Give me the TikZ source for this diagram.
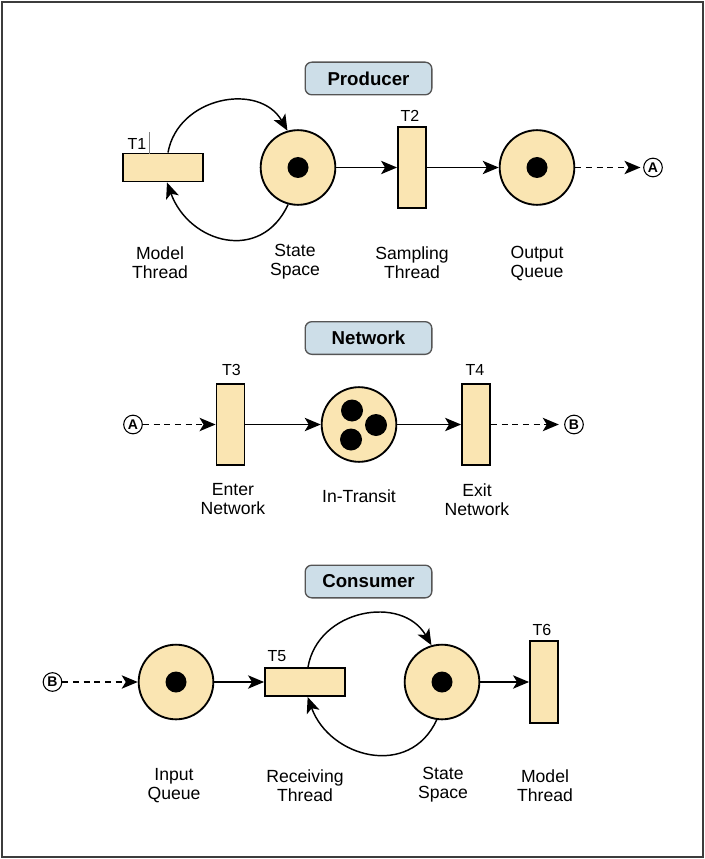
\documentclass[tikz,border=0pt]{standalone}
\usepackage{fontspec}
\setmainfont{Liberation Sans}
\usetikzlibrary{arrows.meta}
\definecolor{placefill}{RGB}{250,229,178}
\definecolor{headfill}{RGB}{205,222,232}
\definecolor{headdraw}{RGB}{85,85,85}
\definecolor{framecol}{RGB}{60,60,60}
\begin{document}
\begin{tikzpicture}[x=0.75pt,y=-0.75pt,
  place/.style={circle,draw=black,line width=1.4pt,fill=placefill,minimum size=56pt,inner sep=0pt},
  token/.style={circle,fill=black,minimum size=15.75pt,inner sep=0pt},
  bigtoken/.style={circle,fill=black,minimum size=16.5pt,inner sep=0pt},
  transh/.style={rectangle,draw=black,line width=1.4pt,fill=placefill,minimum width=60pt,minimum height=21pt,inner sep=0pt},
  transv/.style={rectangle,draw=black,line width=1.4pt,fill=placefill,minimum width=21pt,minimum height=61pt,inner sep=0pt},
  head/.style={rectangle,rounded corners=5pt,draw=headdraw,line width=1pt,fill=headfill,minimum width=95pt,minimum height=24.5pt,inner sep=0pt,font=\fontsize{14}{16}\selectfont\bfseries},
  conn/.style={circle,draw=black,line width=0.8pt,minimum size=14pt,inner sep=0pt,font=\fontsize{10.5}{12}\selectfont\bfseries},
  lbl/.style={align=center,anchor=north,inner sep=0pt,font=\fontsize{13.2}{14.5}\selectfont},
  tlbl/.style={inner sep=0pt,font=\fontsize{12}{14}\selectfont},
  arr/.style={-{Stealth[length=12pt,width=10pt,inset=3pt]},line width=1.1pt},
  darr/.style={arr,line width=1.2pt,dash pattern=on 4.5pt off 3.5pt},
]
\useasboundingbox (0,0) rectangle (704,859);
\draw[framecol,line width=1.5pt] (2,2) rectangle (703,857);

% ---------- Producer ----------
\node[head] (hp) at (368.5,78.5) {Producer};
\node[transh] (T1) at (163,167.5) {};
\node[tlbl] (t1l) at (137,143.5) {T1};
\coordinate (cur1) at (149,132);
\coordinate (cur2) at (149,154);
\draw[gray,line width=0.5pt] (cur1) -- (cur2);
\node[place] (SS1) at (298,167.5) {};
\node[token] (tk1) at (SS1) {};
\node[transv] (T2) at (412,167.5) {};
\node[tlbl] (t2l) at (410,115.5) {T2};
\node[place] (OQ) at (537,167.5) {};
\node[token] (tk2) at (OQ) {};
\node[conn] (A1) at (653,167.5) {A};

\draw[arr] ([xshift=3.75pt]T1.north) .. controls +(10,-56) and +(-28,-49) .. (SS1.106);
\draw[arr] (SS1.255) .. controls +(-27,59) and +(22,61) .. ([xshift=3pt]T1.south);
\draw[arr] (SS1) -- (T2);
\draw[arr] (T2) -- (OQ);
\draw[darr,shorten >=2pt] (OQ) -- (A1);

\node[lbl] (l1) at (160,246) {Model\\Thread};
\node[lbl] (l2) at (295,244) {State\\Space};
\node[lbl] (l3) at (412,246) {Sampling\\Thread};
\node[lbl] (l4) at (537,246) {Output\\Queue};

% ---------- Network ----------
\node[head] (hn) at (368.5,338) {Network};
\node[conn] (A2) at (133,424.5) {A};
\node[transv] (T3) at (230.5,424.5) {};
\node[tlbl] (t3l) at (231.5,370) {T3};
\node[place] (IT) at (359,424.5) {};
\node[bigtoken] (tk3) at (352,410.5) {};
\node[bigtoken] (tk4) at (351,439.5) {};
\node[bigtoken] (tk5) at (376,425) {};
\node[transv] (T4) at (476,424.5) {};
\node[tlbl] (t4l) at (475,370) {T4};
\node[conn] (B1) at (574,424.5) {B};

\draw[darr] (A2) -- (T3);
\draw[arr] (T3) -- (IT);
\draw[arr] (IT) -- (T4);
\draw[darr,shorten >=4pt] (T4) -- (B1);

\node[lbl] (l5) at (233,483) {Enter\\Network};
\node[lbl] (l6) at (359,489) {In-Transit};
\node[lbl] (l7) at (477,483) {Exit\\Network};

% ---------- Consumer ----------
\node[head] (hc) at (368.5,581.5) {Consumer};
\node[conn] (B2) at (52.5,682) {B};
\node[place] (IQ) at (176,682) {};
\node[token] (tk6) at (IQ) {};
\node[transh] (T5) at (305,682) {};
\node[tlbl] (t5l) at (277,656) {T5};
\node[place] (SS2) at (442,682) {};
\node[token] (tk7) at (SS2) {};
\node[transv] (T6) at (544,682) {};
\node[tlbl] (t6l) at (542,629.5) {T6};

\draw[darr] (B2) -- (IQ);
\draw[arr] (IQ) -- (T5);
\draw[arr] ([xshift=2.25pt]T5.north) .. controls +(10,-58) and +(-29.5,-51) .. (SS2.106);
\draw[arr] (SS2.262) .. controls +(-27,59) and +(22,61) .. ([xshift=2pt]T5.south);
\draw[arr] (SS2) -- (T6);

\node[lbl] (l8) at (174,768) {Input\\Queue};
\node[lbl] (l9) at (305,769) {Receiving\\Thread};
\node[lbl] (l10) at (443,767) {State\\Space};
\node[lbl] (l11) at (545,769) {Model\\Thread};
\end{tikzpicture}
\end{document}
